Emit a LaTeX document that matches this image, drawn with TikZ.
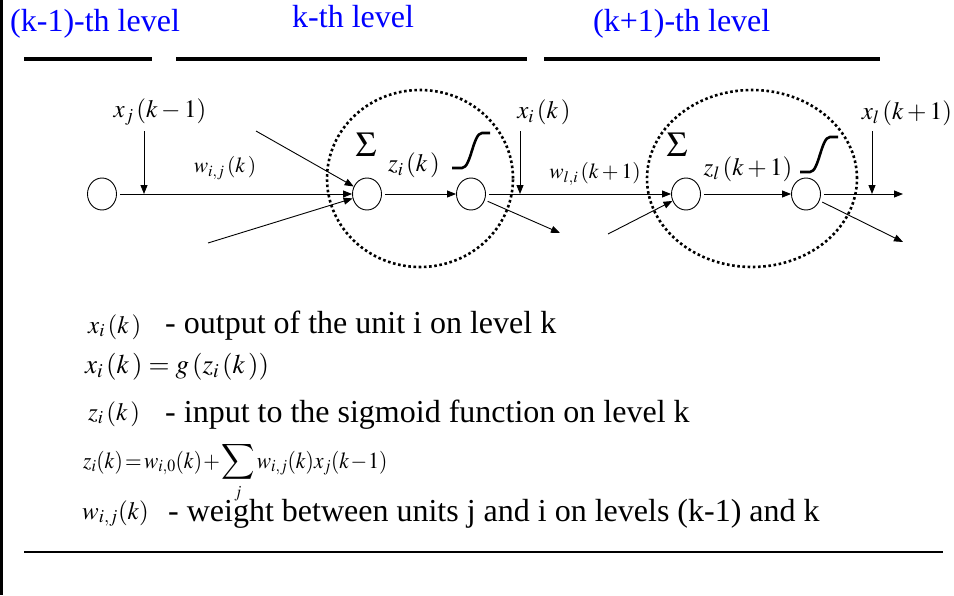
\documentclass[tikz,border=0pt]{standalone}
\usepackage{mathptmx}
\usepackage{exscale}
\usepackage{fontspec}
\setmainfont{Liberation Serif}
\usetikzlibrary{arrows.meta,shapes.geometric}
\tikzset{
  unit/.style={draw, ellipse, line width=0.9pt, minimum width=29pt, minimum height=32pt, inner sep=0pt},
  cell/.style={draw, ellipse, line width=2.6pt, dash pattern=on 2.6pt off 2.6pt, minimum height=177pt, inner sep=0pt},
  flow/.style={-{Triangle[length=9pt,width=7pt]}, line width=0.9pt},
  fromunit/.style={flow, shorten <=3pt},
  levelbar/.style={line width=4pt},
  sigmoid/.style={line width=2.6pt},
  level title/.style={text=blue, font=\fontsize{32}{36}\selectfont, inner sep=0pt, anchor=base west},
  wire label/.style={font=\fontsize{25}{28}\selectfont, inner sep=0pt},
  weight label/.style={font=\fontsize{21.5}{24}\selectfont, inner sep=0pt},
  sum label/.style={font=\fontsize{35}{38}\selectfont, inner sep=0pt},
  legend/.style={font=\fontsize{32}{36}\selectfont, inner sep=0pt, anchor=base west},
  legend math/.style={font=\fontsize{25}{28}\selectfont, inner sep=0pt, anchor=base west}
}

\begin{document}
\begin{tikzpicture}[x=1pt,y=-1pt]
  \useasboundingbox (0,0) rectangle (954,595);
  \draw[line width=3pt] (1.5,0) -- (1.5,595);

  % levels
  \node[level title] (tprev) at (10,31) {(k-1)-th level};
  \node[level title] (tcur) at (292,27) {k-th level};
  \node[level title] (tnext) at (593,31) {(k+1)-th level};
  \draw[levelbar] (24,59) -- (152,59);
  \draw[levelbar] (176,59) -- (527,59);
  \draw[levelbar] (544,59) -- (880,59);

  % units
  \node[cell, minimum width=186pt] (cell1) at (420,178.5) {};
  \node[cell, minimum width=210pt] (cell2) at (752,178.5) {};
  \node[unit] (in0) at (102,194) {};
  \node[unit] (sum1) at (367,194) {};
  \node[unit] (sig1) at (471,194) {};
  \node[unit] (sum2) at (686,194) {};
  \node[unit] (sig2) at (806,194) {};

  \coordinate (xj-in) at (144,131);
  \coordinate (xj-tap) at (144,194);
  \coordinate (xi-in) at (520,131);
  \coordinate (xi-tap) at (520,194);
  \coordinate (xl-in) at (872,131);
  \coordinate (xl-tap) at (872,194);
  \coordinate (upper-in) at (256,131);
  \coordinate (lower-in) at (208,243);
  \coordinate (sig1-out) at (560,233);
  \coordinate (lower-in2) at (608,234);
  \coordinate (sig2-end) at (903,194);
  \coordinate (sig2-out) at (903,242);

  \draw[fromunit] (in0) -- (sum1);
  \draw[flow] (upper-in) -- (sum1);
  \draw[flow] (lower-in) -- (sum1);
  \draw[fromunit] (sum1) -- (sig1);
  \draw[fromunit] (sig1) -- (sum2);
  \draw[fromunit] (sig1) -- (sig1-out);
  \draw[flow] (lower-in2) -- (sum2);
  \draw[fromunit] (sum2) -- (sig2);
  \draw[fromunit] (sig2) -- (sig2-end);
  \draw[fromunit] (sig2) -- (sig2-out);
  \foreach \t in {xj,xi,xl}
    \draw[flow] (\t-in) -- (\t-tap);

  \foreach \sx/\sy in {452/168, 800/172}
    \draw[sigmoid] (\sx,\sy) -- (\sx+10,\sy)
      .. controls (\sx+19,\sy) and (\sx+21,\sy-35) .. (\sx+30,\sy-35) -- (\sx+38,\sy-35);

  \node[wire label] (xjlab) at (160,112) {$x_j\,(k-1)$};
  \node[weight label] (wijlab) at (225,168) {$w_{i,j}\,(k\,)$};
  \node[sum label] (sigma1) at (366,145) {$\Sigma$};
  \node[wire label] (zilab) at (414,165) {$z_i\,(k\,)$};
  \node[wire label] (xilab) at (544,112) {$x_i\,(k\,)$};
  \node[weight label] (wlilab) at (595,174) {$w_{l,i}\,(k+1)$};
  \node[sum label] (sigma2) at (677,145) {$\Sigma$};
  \node[wire label] (zllab) at (748,169) {$z_l\,(k+1)$};
  \node[wire label] (xllab) at (907,113) {$x_l\,(k+1)$};

  % legend
  \node[legend math] (defx) at (88,333) {$x_i\,(k\,)$};
  \node[legend] (defxtext) at (165,333) {- output of the unit i on level k};
  \node[legend math, font=\fontsize{27}{30}\selectfont] (eqx) at (85,373)
    {$x_i\,(k\,)=g\,(z_i\,(k\,))$};
  \node[legend math] (defz) at (88,420) {$z_i\,(k\,)$};
  \node[legend] (defztext) at (165,422) {- input to the sigmoid function on level k};
  \node[legend math, font=\fontsize{23}{26}\selectfont] (eqz) at (83,468)
    {\scalebox{0.93}[1]{$\thickmuskip=2mu \medmuskip=1mu
      \displaystyle z_i(k)=w_{i,0}(k)+\sum_j w_{i,j}(k)x_j(k-1)$}};
  \node[legend math] (defw) at (82,519) {$w_{i,j}(k)$};
  \node[legend] (defwtext) at (168,521) {- weight between units j and i on levels (k-1) and k};
  \draw[line width=1.5pt] (24,552) -- (943,552);
\end{tikzpicture}
\end{document}
